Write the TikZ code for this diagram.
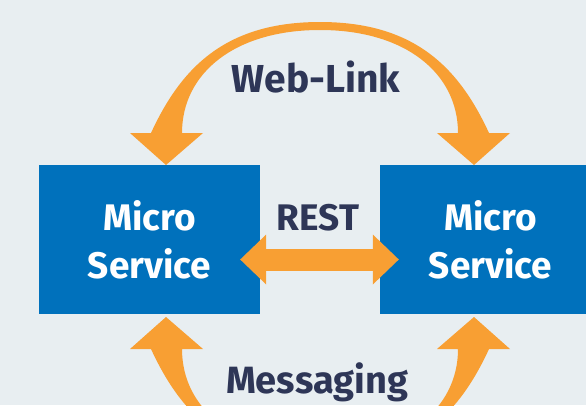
\documentclass[tikz,border=0pt]{standalone}
\usepackage{fontspec}
\setmainfont{Fira Sans}
\usetikzlibrary{arrows.meta}
\definecolor{bgcol}{HTML}{E8EEF1}
\definecolor{boxblue}{HTML}{0071BC}
\definecolor{arrorange}{HTML}{F89F33}
\definecolor{labelnavy}{HTML}{2E3657}

\begin{document}
\begin{tikzpicture}[x=1pt,y=-1pt,
  service/.style={rectangle,fill=boxblue,text=white,minimum width=221pt,minimum height=149pt,
    align=center,font=\bfseries\fontsize{37}{48}\selectfont},
  linklabel/.style={text=labelnavy,anchor=base,inner sep=0pt},
  resttip/.style={>={Triangle[length=26pt,width=50pt,line width=0pt]}}]
\useasboundingbox (0,0) rectangle (586,405);
\fill[bgcol] (0,0) rectangle (586,405);
\clip (0,0) rectangle (586,405);

\node[service] (lbox) at (149.5,239.5) {Micro\\Service};
\node[service] (rbox) at (490.5,239.5) {Micro\\Service};

\fill[arrorange] (130,133) -- (151,133) .. controls (181,68) and (225,22) .. (320,22)
  .. controls (415,22) and (459,68) .. (489,133) -- (510,133) -- (474,165) -- (437,133) -- (458,133)
  .. controls (458,73) and (405,30) .. (320,30) .. controls (235,30) and (182,73) .. (182,133)
  -- (203,133) -- (166,165) -- cycle;
\fill[arrorange] (130,349) -- (151,349) .. controls (181,414) and (225,460) .. (320,460)
  .. controls (415,460) and (459,414) .. (489,349) -- (510,349) -- (474,317) -- (437,349) -- (458,349)
  .. controls (458,409) and (405,452) .. (320,452) .. controls (235,452) and (182,409) .. (182,349)
  -- (203,349) -- (166,317) -- cycle;

\draw[arrorange,line width=22pt,resttip,<->,shorten <=-20pt,shorten >=-19pt]
  ([yshift=-20pt]lbox.east) -- ([yshift=-20pt]rbox.west);

\node[linklabel,font=\bfseries\fontsize{39}{39}\selectfont] (weblink) at (316,92) {Web-Link};
\node[linklabel,font=\bfseries\fontsize{37}{37}\selectfont] (rest) at (318,230) {REST};
\node[linklabel,font=\bfseries\fontsize{38}{38}\selectfont] (messaging) at (317,393) {Messaging};
\end{tikzpicture}
\end{document}
